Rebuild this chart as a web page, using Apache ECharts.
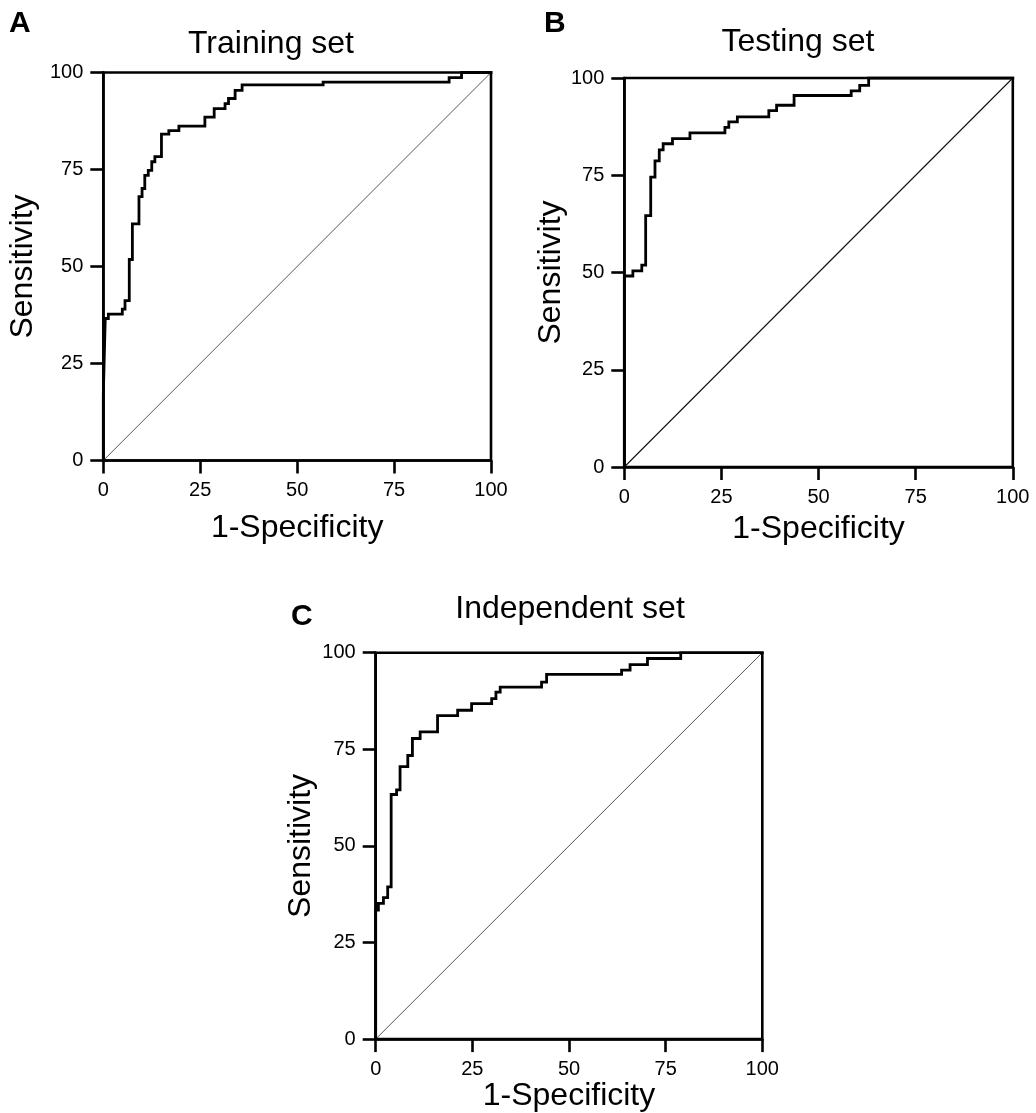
<!DOCTYPE html>
<html>
<head>
<meta charset="utf-8">
<script src="https://cdn.jsdelivr.net/npm/echarts@6/dist/echarts.min.js"></script>
<style>html,body{margin:0;padding:0;background:#fff;}#c{width:1036px;height:1113px;}</style>
</head>
<body>
<div id="c"></div>
<script>
// ---- data ----
const ticks = [0, 25, 50, 75, 100];
const panelLetters = ['A', 'B', 'C'];
const panelTitles = ['Training set', 'Testing set', 'Independent set'];
const xName = '1-Specificity';
const yName = 'Sensitivity';

const trainX = [0, 0, 0.5, 1.3, 4.9, 5.6, 6.7, 7.5, 9.2, 10.0, 10.7, 11.6, 12.5, 13.3, 15.0, 16.9, 19.5, 26.2, 28.6, 31.4, 32.3, 34.0, 35.8, 56.7, 89.2, 92.4, 100];
const trainY = [0, 16.9, 36.6, 37.7, 39.0, 41.2, 51.8, 61.0, 68.0, 70.1, 73.5, 74.8, 77.0, 78.3, 84.1, 85.0, 86.2, 88.5, 90.7, 92.0, 93.3, 95.4, 96.8, 97.5, 98.7, 100, 100];

const testX = [0, 0, 2.2, 4.5, 5.5, 6.8, 7.9, 9.0, 10.0, 12.4, 16.9, 25.9, 26.9, 29.1, 37.2, 39.2, 43.7, 58.4, 60.6, 62.9, 100];
const testY = [0, 49.1, 50.4, 51.9, 64.6, 74.5, 78.7, 81.5, 83.1, 84.4, 85.9, 87.3, 88.7, 90.0, 91.6, 93.0, 95.5, 96.7, 98.1, 100, 100];

const indepX = [0, 0, 0.7, 2.0, 3.1, 4.0, 5.4, 6.3, 8.3, 9.5, 11.5, 16.0, 21.2, 24.8, 30.0, 31.1, 32.2, 42.9, 44.2, 63.6, 65.8, 70.3, 78.9, 100];
const indepY = [0, 33.4, 35.1, 36.6, 39.4, 63.3, 64.5, 70.5, 73.4, 77.8, 79.5, 83.7, 85.1, 86.8, 88.1, 89.8, 91.1, 92.4, 94.4, 95.5, 96.9, 98.5, 100, 100];

const diagX = [0, 100];
const diagY = [0, 100];

// ---- layout ----
const grids = [
  {left: 103.3, top: 72.5, width: 387.7, height: 388},
  {left: 624.3, top: 78, width: 388.5, height: 389},
  {left: 375.7, top: 652.7, width: 386.6, height: 389}
];
const xNameGaps = [52, 46, 36];
const yNameGaps = [64, 56, 59];
const diagStyles = [
  {color: '#444', width: 0.9},
  {color: '#111', width: 1.1},
  {color: '#444', width: 0.9}
];
const titlePos = [[271, 44], [798, 42], [570, 609]];
const letterPos = [[9, 24], [544, 24], [291, 617]];

const pairs = (xs, ys) => xs.map((x, i) => [x, ys[i]]);
const rocData = [pairs(trainX, trainY), pairs(testX, testY), pairs(indepX, indepY)];

const FONT = '"Liberation Sans", Arial, sans-serif';
const AXW = 2.6;

const option = {
  animation: false,
  backgroundColor: '#fff',
  grid: grids.map(g => Object.assign({show: true, borderColor: '#000', borderWidth: AXW, backgroundColor: 'transparent', containLabel: false}, g)),
  xAxis: grids.map((g, i) => ({
    type: 'value', gridIndex: i, min: ticks[0], max: ticks[ticks.length - 1], interval: 25,
    name: xName, nameLocation: 'middle', nameGap: xNameGaps[i],
    nameTextStyle: {fontFamily: FONT, fontSize: 32, color: '#000'},
    axisLine: {show: true, onZero: false, lineStyle: {color: '#000', width: AXW}},
    axisTick: {show: true, length: 13, lineStyle: {color: '#000', width: AXW}},
    axisLabel: {fontFamily: FONT, fontSize: 20, color: '#000', margin: 20},
    splitLine: {show: false}
  })),
  yAxis: grids.map((g, i) => ({
    type: 'value', gridIndex: i, min: ticks[0], max: ticks[ticks.length - 1], interval: 25,
    name: yName, nameLocation: 'middle', nameGap: yNameGaps[i], nameRotate: 90,
    nameTextStyle: {fontFamily: FONT, fontSize: 32, color: '#000'},
    axisLine: {show: true, onZero: false, lineStyle: {color: '#000', width: AXW}},
    axisTick: {show: true, length: 13, lineStyle: {color: '#000', width: AXW}},
    axisLabel: {fontFamily: FONT, fontSize: 20, color: '#000', margin: 20},
    splitLine: {show: false}
  })),
  series: [].concat(...grids.map((g, i) => [
    {
      type: 'line', xAxisIndex: i, yAxisIndex: i, data: pairs(diagX, diagY),
      symbol: 'none', silent: true,
      lineStyle: {color: diagStyles[i].color, width: diagStyles[i].width}
    },
    {
      type: 'line', xAxisIndex: i, yAxisIndex: i, data: rocData[i], step: 'end',
      symbol: 'none', silent: true,
      lineStyle: {color: '#000', width: 2.8, join: 'miter', cap: 'square'}
    }
  ])),
  graphic: [].concat(
    panelTitles.map((t, i) => ({
      type: 'text', x: titlePos[i][0], y: titlePos[i][1], silent: true,
      style: {text: t, fontFamily: FONT, fontSize: 32, fill: '#000', textAlign: 'center', textVerticalAlign: 'middle'}
    })),
    panelLetters.map((t, i) => ({
      type: 'text', x: letterPos[i][0], y: letterPos[i][1], silent: true,
      style: {text: t, fontFamily: FONT, fontSize: 30, fontWeight: 'bold', fill: '#000', textAlign: 'left', textVerticalAlign: 'middle'}
    }))
  )
};

const chart = echarts.init(document.getElementById('c'), null, {renderer: 'canvas'});
chart.setOption(option);
</script>
</body>
</html>
